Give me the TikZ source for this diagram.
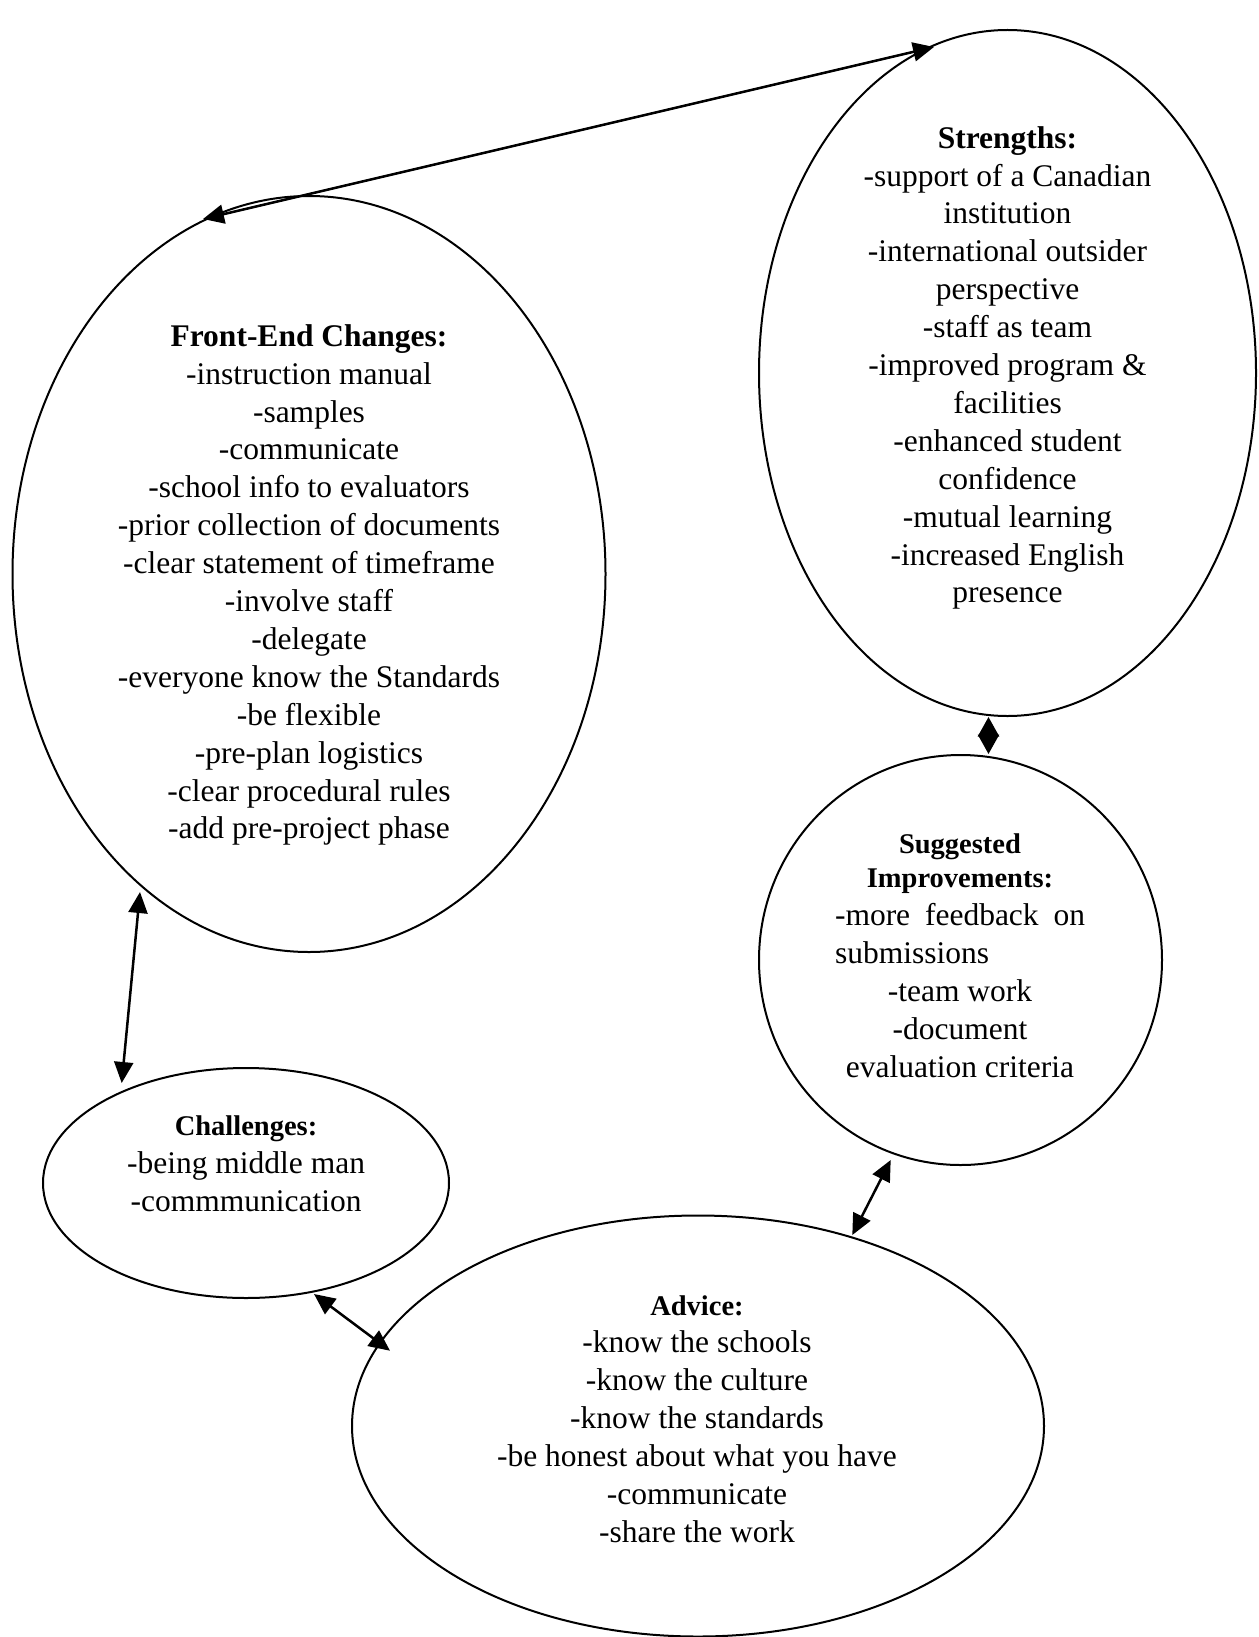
\documentclass[tikz,border=0pt]{standalone}
\usepackage{fontspec}
\setmainfont{Liberation Serif}
\usetikzlibrary{arrows.meta,shapes.geometric}
\begin{document}
\begin{tikzpicture}[x=1pt,y=-1pt,
  bubble/.style={draw, line width=2pt, ellipse, inner sep=0pt},
  body/.style={align=center, inner sep=0pt, font=\fontsize{31.5}{37.9}\selectfont},
  link/.style={line width=2.5pt, {Triangle[length=21pt,width=19pt]}-{Triangle[length=21pt,width=19pt]}},
  shortlink/.style={line width=2.5pt, {Triangle[length=19.5pt,width=21pt]}-{Triangle[length=19.5pt,width=21pt]}}]
\useasboundingbox (0,0) rectangle (1258,1637);
\newcommand{\bighead}[1]{{\bfseries #1}}
\newcommand{\smallhead}[1]{{\fontsize{28.5}{37.9}\selectfont\bfseries #1}}

% outlines of the five groups
\node[bubble, minimum width=593pt, minimum height=756pt] (fe) at (309,574) {};
\node[bubble, minimum width=497pt, minimum height=686pt] (st) at (1007.5,373) {};
\node[bubble, minimum width=403pt, minimum height=410pt] (si) at (960.5,960) {};
\node[bubble, minimum width=406pt, minimum height=230pt] (ch) at (246,1183) {};
\node[bubble, minimum width=692pt, minimum height=421pt] (ad) at (698,1426) {};

% contents
\node[body] (feText) at (309,585) {\bighead{Front-End Changes:}\\
  -instruction manual\\ -samples\\ -communicate\\ -school info to evaluators\\
  -prior collection of documents\\ -clear statement of timeframe\\
  -involve staff\\ -delegate\\ -everyone know the Standards\\ -be flexible\\
  -pre-plan logistics\\ -clear procedural rules\\ -add pre-project phase};

\node[body] (stText) at (1007.5,368) {\bighead{Strengths:}\\
  -support of a Canadian\\ institution\\ -international outsider\\ perspective\\
  -staff as team\\ -improved program \&\\ facilities\\ -enhanced student\\
  confidence\\ -mutual learning\\ -increased English\\ presence};

\node[body] (siText) at (960,955.5) {\smallhead{Suggested}\\[-3pt]
  \smallhead{Improvements:}\\
  \makebox[250pt][s]{-more feedback on}\\
  \makebox[250pt][l]{submissions}\\
  -team work\\ -document\\ evaluation criteria};

\node[body] (chText) at (246,1163.5) {\smallhead{Challenges:}\\
  -being middle man\\ -commmunication};

\node[body] (adText) at (697,1419) {\smallhead{Advice:}\\
  -know the schools\\ -know the culture\\ -know the standards\\
  -be honest about what you have\\ -communicate\\ -share the work};

% arrow tips on the outlines
\coordinate (feUp)   at (203,219);
\coordinate (stUp)   at (934,47);
\coordinate (stLow)  at (988.5,717);
\coordinate (siUp)   at (988.5,754);
\coordinate (feLow)  at (140,892);
\coordinate (chUp)   at (121.7,1083);
\coordinate (siLow)  at (890.7,1160);
\coordinate (adUp)   at (852.3,1235);
\coordinate (chLow)  at (314,1294);
\coordinate (adLeft) at (390,1350.7);

% connectors
\draw[link] (feUp) -- (stUp);
\draw[shortlink] (stLow) -- (siUp);
\draw[link] (feLow) -- (chUp);
\draw[link] (siLow) -- (adUp);
\draw[link] (chLow) -- (adLeft);
\end{tikzpicture}
\end{document}
